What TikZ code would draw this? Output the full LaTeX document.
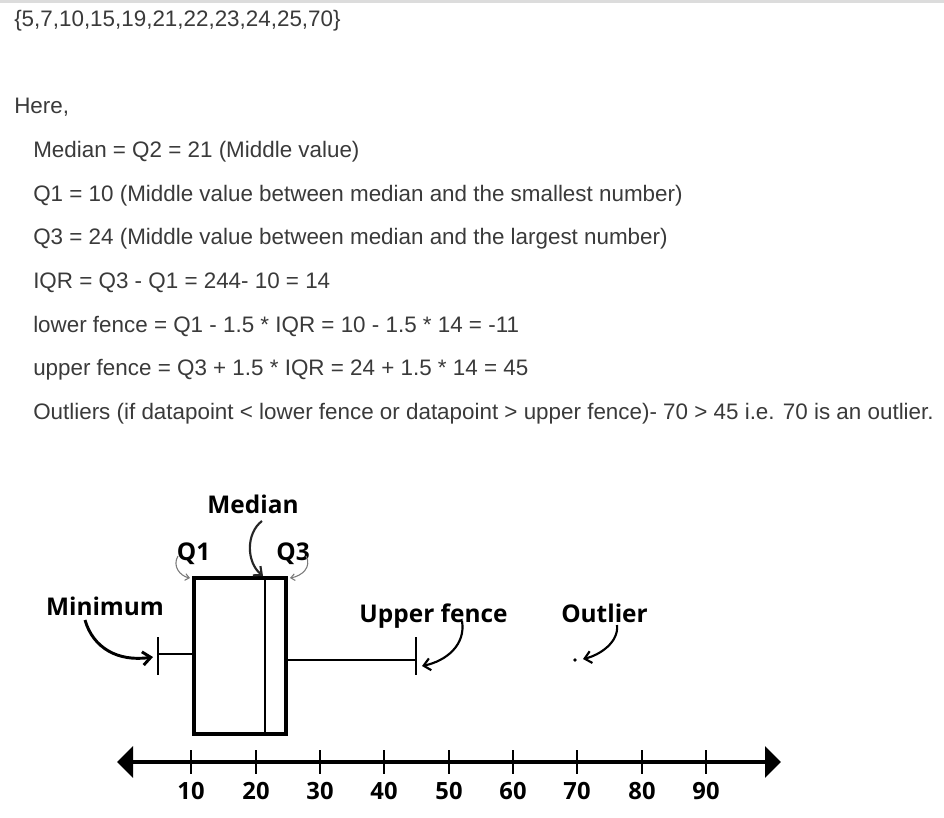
\documentclass[tikz,border=0pt]{standalone}
\usepackage{fontspec}
\setmainfont{Liberation Sans}
\newfontfamily\labelfont{Open Sans}[BoldFont={Open Sans Bold}]
\usetikzlibrary{arrows.meta}
\definecolor{txt}{HTML}{3A3A3A}
\definecolor{topline}{HTML}{DCDCDC}
\definecolor{qarrow}{HTML}{7A7A7A}
\tikzset{
  body/.style={anchor=base west, inner sep=0pt, text=txt, font=\fontsize{16.8}{20}\selectfont},
  lbl/.style={anchor=base, inner sep=0pt, text=black, font=\labelfont\bfseries\fontsize{18.3}{21}\selectfont},
  num/.style={anchor=base, inner sep=0pt, text=black, font=\labelfont\bfseries\fontsize{17.8}{20}\selectfont},
  thickarrow/.style={line width=2.2pt, -{Straight Barb[length=6pt,width=10pt]}},
  midarrow/.style={line width=1.6pt, -{Straight Barb[length=5pt,width=9pt]}},
  grayarrow/.style={line width=0.8pt, qarrow, -{Straight Barb[length=3pt,width=5pt]}},
  tickmark/.style={line width=2.2pt},
}
\begin{document}
\begin{tikzpicture}[x=0.75pt,y=-0.75pt]
\useasboundingbox (0,0) rectangle (944,817);
\fill[white] (0,0) rectangle (944,817);
% top rule
\fill[topline] (0,0) rectangle (944,3.5);
% text
\node[body] (set) at (14,27) {\{5,7,10,15,19,21,22,23,24,25,70\}};
\node[body] (here) at (14,113) {Here,};
\node[body] (l1) at (33,157) {Median = Q2 = 21 (Middle value)};
\node[body] (l2) at (33,201) {Q1 = 10 (Middle value between median and the smallest number)};
\node[body] (l3) at (33,244) {Q3 = 24 (Middle value between median and the largest number)};
\node[body] (l4) at (33,288) {IQR = Q3 - Q1 = 244- 10 = 14};
\node[body] (l5) at (33,332) {lower fence = Q1 - 1.5 * IQR = 10 - 1.5 * 14 = -11};
\node[body] (l6) at (33,375) {upper fence = Q3 + 1.5 * IQR = 24 + 1.5 * 14 = 45};
\node[body] (l7) at (33,419) {Outliers (if datapoint < lower fence or datapoint > upper fence)- 70 > 45 i.e. 70 is an outlier.};
% box
\draw[line width=3pt] (194,578) rectangle (286,734);
\draw[line width=1.5pt] (265,578) -- (265,734);
% whiskers
\coordinate (lw) at (158,654);
\coordinate (rw) at (416,660);
\draw[line width=1.2pt] (lw) -- (192,654);
\draw[line width=1.6pt] (158,637) -- (158,675);
\draw[line width=1.2pt] (288,660) -- (rw);
\draw[line width=1.8pt] (416,637) -- (416,675);
% outlier dot
\fill (575,660) circle (1.9);
% labels
\node[lbl] (median) at (253,513) {Median};
\node[lbl] (q1) at (193.5,560) {Q1};
\node[lbl] (q3) at (293,560) {Q3};
\node[lbl] (minimum) at (105,615) {Minimum};
\node[lbl] (upper) at (433.5,622) {Upper fence};
\node[lbl] (outlier) at (604.5,622) {Outlier};
% arrows
\coordinate (medS) at (262,521);
\coordinate (medE) at (263,576);
\draw[midarrow, black!85] (medS) .. controls (246,533) and (246,562) .. (medE);
\coordinate (q1S) at (178,556);
\coordinate (q1E) at (190,578);
\draw[grayarrow] (q1S) .. controls (172,566) and (180,576) .. (q1E);
\coordinate (q3S) at (306,556);
\coordinate (q3E) at (290,578);
\draw[grayarrow] (q3S) .. controls (312,567) and (302,576) .. (q3E);
\coordinate (minS) at (85,620);
\coordinate (minE) at (153,657);
\draw[thickarrow] (minS) .. controls (93,648) and (118,662) .. (minE);
\coordinate (upS) at (462,621);
\coordinate (upE) at (422,666);
\draw[midarrow] (upS) .. controls (466,645) and (446,661) .. (upE);
\coordinate (outS) at (617,625);
\coordinate (outE) at (583,659);
\draw[midarrow] (outS) .. controls (619,642) and (600,655) .. (outE);
% number line
\coordinate (nlL) at (117,762);
\coordinate (nlR) at (781,762);
\draw[line width=3pt, {Triangle[length=12pt,width=23pt]}-{Triangle[length=12pt,width=23pt]}] (nlL) -- (nlR);
\foreach \x/\v in {191/10,256/20,320/30,384/40,449/50,513/60,577/70,642/80,706/90}{
  \draw[tickmark] (\x,750) -- (\x,774);
  \node[num] (n\v) at (\x,799) {\v};
}
\end{tikzpicture}
\end{document}
